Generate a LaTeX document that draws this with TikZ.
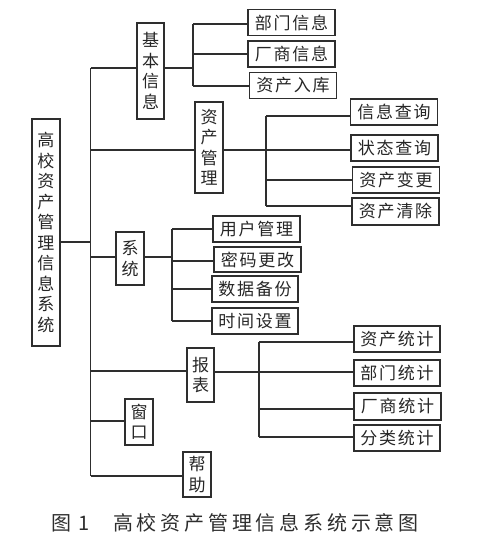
\documentclass[tikz,border=0pt]{standalone}
\usepackage{fontspec}
\newfontfamily\cjk{Noto Sans CJK SC}
\newfontfamily\cjkh[LetterSpace=10]{Noto Sans CJK SC}
\newfontfamily\cjkc[LetterSpace=19]{Noto Sans CJK SC}
\begin{document}
\begin{tikzpicture}[x=1pt,y=-1pt,
  lw/.style={line width=1.4pt, draw=black!82},
  vbox/.style={lw, rectangle, inner sep=0pt, minimum width=28pt, align=center,
    font=\cjk\fontsize{17}{20.5}\selectfont, text=black!85},
  hbox/.style={lw, rectangle, inner sep=0pt, minimum width=87pt, minimum height=26pt,
    font=\cjkh\fontsize{17}{20}\selectfont, text=black!85},
  conn/.style={lw}]
\useasboundingbox (0,0) rectangle (487,544);
% level 0
\node[vbox, minimum height=227pt] (root) at (46,232.5) {高\\校\\资\\产\\管\\理\\信\\息\\系\\统};
% level 1
\node[vbox, minimum width=27pt, minimum height=96pt] (jb) at (150.5,71) {基\\本\\信\\息};
\node[vbox, minimum height=91pt] (zc) at (209,147.5) {资\\产\\管\\理};
\node[vbox, minimum height=53pt] (xt) at (130,258.5) {系\\统};
\node[vbox, minimum width=27pt, minimum height=54pt] (bb) at (200.5,375) {报\\表};
\node[vbox, minimum height=46pt] (ck) at (139,422) {窗\\口};
\node[vbox, minimum height=45pt] (bz) at (197,474.5) {帮\\助};
% level 2
\node[hbox] (a1) at (291.5,22.5) {部门信息};
\node[hbox] (a2) at (291.5,54) {厂商信息};
\node[hbox] (a3) at (293,85.5) {资产入库};
\node[hbox] (b1) at (394,112) {信息查询};
\node[hbox] (b2) at (394.5,148) {状态查询};
\node[hbox] (b3) at (396,180) {资产变更};
\node[hbox, minimum height=27pt] (b4) at (395.5,211.5) {资产清除};
\node[hbox] (c1) at (256.5,229) {用户管理};
\node[hbox, minimum height=25pt] (c2) at (257.5,259.5) {密码更改};
\node[hbox, minimum width=86pt] (c3) at (255,289) {数据备份};
\node[hbox, minimum width=86pt] (c4) at (255,321) {时间设置};
\node[hbox, minimum width=86pt] (d1) at (397,339) {资产统计};
\node[hbox, minimum width=86pt] (d2) at (397,373) {部门统计};
\node[hbox, minimum height=27pt] (d3) at (397.5,406.5) {厂商统计};
\node[hbox, minimum width=86pt] (d4) at (397,438) {分类统计};
% junction coordinates
\coordinate (t0) at (90.5,68);
\coordinate (tr) at (90.5,242);
\coordinate (t1) at (90.5,150);
\coordinate (t2) at (90.5,257);
\coordinate (t3) at (90.5,371);
\coordinate (t4) at (90.5,421);
\coordinate (t5) at (90.5,476);
\coordinate (ja) at (193,68);
\coordinate (ja1) at (193,24);
\coordinate (ja3) at (193,86);
\coordinate (jz) at (266,150);
\coordinate (jz1) at (266,116);
\coordinate (jz3) at (266,180);
\coordinate (jz4) at (266,206);
\coordinate (jx) at (172,257);
\coordinate (jx1) at (172,229);
\coordinate (jx2) at (172,261);
\coordinate (jx3) at (172,289);
\coordinate (jx4) at (172,321);
\coordinate (jd) at (259,372);
\coordinate (jd1) at (259,342);
\coordinate (jd3) at (259,409);
\coordinate (jd4) at (259,437);
% trunk
\draw[conn] (t0) -- (t5);
\draw[conn] (root.east |- tr) -- (tr);
\draw[conn] (t0) -- (t0 -| jb.west);
\draw[conn] (t1) -- (t1 -| zc.west);
\draw[conn] (t2) -- (t2 -| xt.west);
\draw[conn] (t3) -- (t3 -| bb.west);
\draw[conn] (t4) -- (t4 -| ck.west);
\draw[conn] (t5) -- (t5 -| bz.west);
% 基本信息
\draw[conn] (jb.east |- ja) -- (ja);
\draw[conn] (ja1) -- (ja3);
\draw[conn] (ja1) -- (ja1 -| a1.west);
\draw[conn] (ja |- a2) -- (a2.west);
\draw[conn] (ja3) -- (ja3 -| a3.west);
% 资产管理
\draw[conn] (zc.east |- jz) -- (jz);
\draw[conn] (jz1) -- (jz4);
\draw[conn] (jz1) -- (jz1 -| b1.west);
\draw[conn] (jz) -- (jz -| b2.west);
\draw[conn] (jz3) -- (jz3 -| b3.west);
\draw[conn] (jz4) -- (jz4 -| b4.west);
% 系统
\draw[conn] (xt.east |- jx) -- (jx);
\draw[conn] (jx1) -- (jx4);
\draw[conn] (jx1) -- (jx1 -| c1.west);
\draw[conn] (jx2) -- (jx2 -| c2.west);
\draw[conn] (jx3) -- (jx3 -| c3.west);
\draw[conn] (jx4) -- (jx4 -| c4.west);
% 报表
\draw[conn] (bb.east |- jd) -- (jd);
\draw[conn] (jd1) -- (jd4);
\draw[conn] (jd1) -- (jd1 -| d1.west);
\draw[conn] (jd) -- (jd -| d2.west);
\draw[conn] (jd3) -- (jd3 -| d3.west);
\draw[conn] (jd4) -- (jd4 -| d4.west);
% caption
\node[anchor=west, inner sep=0pt, text=black!82, font=\cjk\fontsize{20}{21}\selectfont] (capn) at (51,523) {图\hspace{7pt}1};
\node[anchor=west, inner sep=0pt, text=black!82, font=\cjkc\fontsize{20}{21}\selectfont] (capt) at (113,523) {高校资产管理信息系统示意图};
\end{tikzpicture}
\end{document}
